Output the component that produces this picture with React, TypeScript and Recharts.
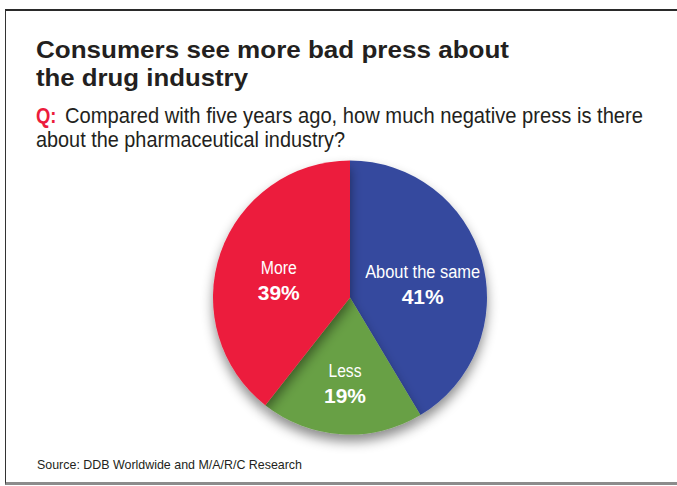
import { PieChart, Pie, Cell } from "recharts";

const categories = ["About the same", "Less", "More"];
const shares = [41, 19, 39];
const sliceColors = ["#364a9e", "#68a044", "#ec1c3c"];

const titleLines = ["Consumers see more bad press about", "the drug industry"];
const questionTag = "Q:";
const questionLines = ["Compared with five years ago, how much negative press is there", "about the pharmaceutical industry?"];
const source = "Source: DDB Worldwide and M/A/R/C Research";

const data = categories.map((name, i) => ({ name, value: shares[i] }));

const FONT = "'Liberation Sans', Arial, sans-serif";
const INK = "#231f20";
const RAD = Math.PI / 180;

const nameWidths: Record<string, number> = { "About the same": 115, Less: 33, More: 36 };

function SliceLabel(props: any) {
  const { cx, cy, midAngle, outerRadius, name, value } = props;
  const r = outerRadius * (name === "Less" ? 0.575 : 0.55);
  const x = cx + r * Math.cos(-midAngle * RAD);
  const y = cy + r * Math.sin(-midAngle * RAD);
  return (
    <g>
      <text x={x} y={y + 1} textAnchor="middle" fill="#fff" fontFamily={FONT} fontSize={18}
        textLength={nameWidths[name]} lengthAdjust="spacingAndGlyphs">
        {name}
      </text>
      <text x={x} y={y + 27} textAnchor="middle" fill="#fff" fontFamily={FONT} fontSize={20} fontWeight="bold"
        textLength={42} lengthAdjust="spacingAndGlyphs">
        {value}%
      </text>
    </g>
  );
}

export default function App() {
  return (
    <div style={{ position: "absolute", left: 0, top: 0, width: 677, height: 486, background: "#fff", overflow: "hidden" }}>
      <div
        style={{
          position: "absolute", left: 5, top: 9, width: 720, height: 471,
          borderTop: "2px solid #2a2a2a", borderLeft: "1.5px solid #333", borderBottom: "3px solid #8c8c8c",
        }}
      />
      <div style={{ position: "absolute", left: 0, top: 0 }}>
        <PieChart width={677} height={486} margin={{ top: 0, right: 0, bottom: 0, left: 0 }}>
          <defs>
            <filter id="pieShadow" x="-20%" y="-20%" width="140%" height="140%">
              <feDropShadow dx="0" dy="7" stdDeviation="6" floodColor="#000" floodOpacity="0.45" />
            </filter>
          </defs>
          <Pie
            data={data}
            dataKey="value"
            nameKey="name"
            cx={350}
            cy={297.5}
            outerRadius={137}
            startAngle={90}
            endAngle={-270}
            stroke="none"
            isAnimationActive={false}
            style={{ filter: "url(#pieShadow)" }}
          >
            {data.map((d, i) => <Cell key={d.name} fill={sliceColors[i]} />)}
          </Pie>
          <Pie
            data={data}
            dataKey="value"
            nameKey="name"
            cx={350}
            cy={297.5}
            outerRadius={137}
            startAngle={90}
            endAngle={-270}
            stroke="none"
            fill="none"
            labelLine={false}
            label={SliceLabel}
            isAnimationActive={false}
          >
            {data.map((d) => <Cell key={d.name} fill="none" />)}
          </Pie>
        </PieChart>
      </div>
      <svg width={677} height={486} style={{ position: "absolute", left: 0, top: 0 }} fontFamily={FONT}>
        <text x={36} y={57.5} fontSize={24} fontWeight="bold" fill={INK} textLength={473} lengthAdjust="spacingAndGlyphs">
          {titleLines[0]}
        </text>
        <text x={36} y={86} fontSize={24} fontWeight="bold" fill={INK} textLength={212} lengthAdjust="spacingAndGlyphs">
          {titleLines[1]}
        </text>
        <text x={36} y={122.7} fontSize={22} fontWeight="bold" fill="#ec1c3c" textLength={20.5} lengthAdjust="spacingAndGlyphs">
          {questionTag}
        </text>
        <text x={65} y={122.7} fontSize={22} fill={INK} textLength={578} lengthAdjust="spacingAndGlyphs">
          {questionLines[0]}
        </text>
        <text x={36} y={146.7} fontSize={22} fill={INK} textLength={309} lengthAdjust="spacingAndGlyphs">
          {questionLines[1]}
        </text>
        <text x={37} y={468.5} fontSize={13} fill={INK} textLength={265} lengthAdjust="spacingAndGlyphs">
          {source}
        </text>
      </svg>
    </div>
  );
}
